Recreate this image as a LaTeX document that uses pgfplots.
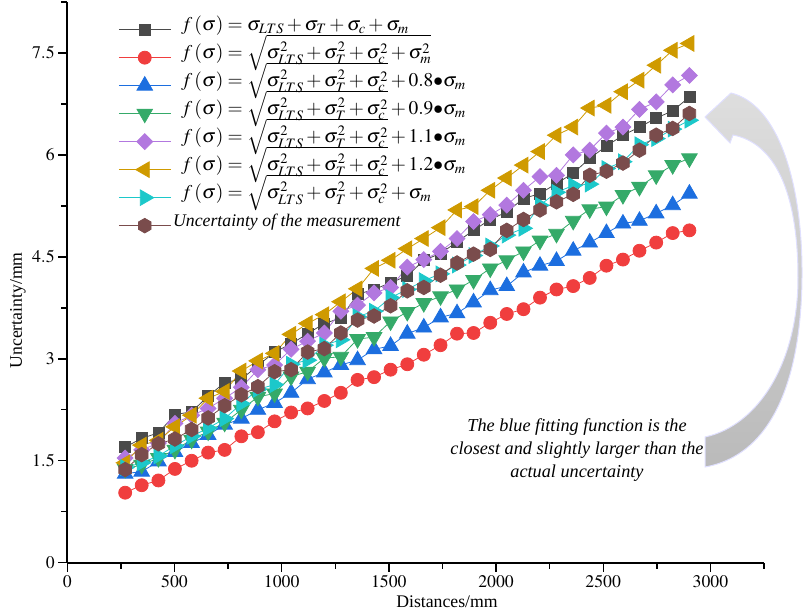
\documentclass[border=0pt]{standalone}
\usepackage{mathptmx}
\usepackage{fontspec}
\setmainfont{Liberation Serif}
\usepackage{pgfplots}
\usepackage{pgfplotstable}
\pgfplotsset{compat=1.18}

\definecolor{cblk}{HTML}{4A4A4A}
\definecolor{cred}{HTML}{F03E3E}
\definecolor{cblu}{HTML}{1C6EDF}
\definecolor{cgrn}{HTML}{35AA69}
\definecolor{cpur}{HTML}{B278DF}
\definecolor{cgld}{HTML}{CF9A00}
\definecolor{ccyn}{HTML}{1CC8CA}
\definecolor{cbrn}{HTML}{7A4C4C}

% hexagon marker, pointy top
\pgfdeclareplotmark{hexagon*}{%
  \pgfpathmoveto{\pgfqpointpolar{90}{\pgfplotmarksize}}%
  \pgfpathlineto{\pgfqpointpolar{150}{\pgfplotmarksize}}%
  \pgfpathlineto{\pgfqpointpolar{210}{\pgfplotmarksize}}%
  \pgfpathlineto{\pgfqpointpolar{270}{\pgfplotmarksize}}%
  \pgfpathlineto{\pgfqpointpolar{330}{\pgfplotmarksize}}%
  \pgfpathlineto{\pgfqpointpolar{30}{\pgfplotmarksize}}%
  \pgfpathclose
  \pgfusepathqfillstroke}

\newcommand{\mf}{\fontsize{19.5}{20}\selectfont}

% x, sum, rss, +0.8, +0.9, +1.1, +1.2, +1.0, measured
\pgfplotstableread{
x    blk  red  blu  grn  pur  gld  cyn  brn
270  1.70 1.03 1.31 1.38 1.54 1.47 1.40 1.37
347  1.83 1.14 1.34 1.44 1.66 1.73 1.47 1.59
425  1.91 1.21 1.49 1.54 1.76 1.80 1.57 1.75
502  2.18 1.38 1.63 1.66 2.05 2.00 1.72 1.82
580  2.22 1.50 1.76 1.81 2.17 2.17 1.86 1.96
657  2.45 1.62 1.88 1.93 2.27 2.42 1.98 2.13
734  2.65 1.66 2.03 2.06 2.42 2.52 2.12 2.31
812  2.70 1.86 2.12 2.25 2.58 2.82 2.34 2.47
889  2.90 1.92 2.25 2.44 2.84 2.97 2.55 2.59
967  3.10 2.08 2.35 2.49 2.91 3.08 2.62 2.81
1044 3.22 2.21 2.50 2.74 3.14 3.36 2.92 2.84
1121 3.37 2.27 2.70 2.81 3.26 3.52 2.98 3.10
1199 3.52 2.38 2.80 3.01 3.38 3.65 3.20 3.15
1276 3.60 2.50 2.91 3.03 3.70 3.84 3.28 3.38
1354 3.95 2.69 2.98 3.29 3.79 4.03 3.62 3.57
1431 4.02 2.73 3.14 3.32 3.97 4.33 3.70 3.63
1508 4.12 2.84 3.19 3.55 4.05 4.45 3.90 3.78
1586 4.22 2.92 3.37 3.69 4.35 4.62 4.02 4.00
1663 4.45 3.06 3.46 3.82 4.46 4.77 4.15 4.05
1741 4.55 3.20 3.61 3.92 4.58 4.93 4.25 4.23
1818 4.72 3.37 3.67 4.02 4.77 5.19 4.38 4.41
1895 4.89 3.38 3.83 4.16 5.02 5.24 4.52 4.54
1973 5.05 3.53 4.01 4.33 5.12 5.48 4.66 4.61
2050 5.16 3.66 4.07 4.45 5.26 5.66 4.82 4.89
2128 5.36 3.73 4.27 4.58 5.48 5.85 4.92 5.05
2205 5.43 3.90 4.37 4.74 5.68 6.05 5.26 5.19
2282 5.58 4.02 4.44 4.84 5.70 6.29 5.45 5.31
2360 5.73 4.07 4.59 5.03 6.00 6.41 5.55 5.42
2437 5.95 4.19 4.71 5.20 6.07 6.69 5.57 5.70
2515 6.13 4.37 4.85 5.24 6.32 6.73 5.80 5.76
2592 6.29 4.46 4.99 5.41 6.41 6.93 5.90 5.88
2669 6.41 4.59 5.03 5.53 6.67 7.10 6.15 6.07
2747 6.54 4.71 5.14 5.70 6.78 7.32 6.24 6.29
2824 6.65 4.85 5.26 5.85 7.03 7.54 6.38 6.39
2902 6.85 4.89 5.43 5.95 7.17 7.64 6.51 6.61
}\data

\begin{document}
\begin{tikzpicture}
\path[use as bounding box] (0,0) rectangle (803bp,-616bp);

\begin{axis}[
  at={(67.3bp,-562.7bp)}, anchor=south west,
  scale only axis, width=696.7bp, height=560.7bp,
  xmin=0, xmax=3250, ymin=0, ymax=8.25,
  axis x line*=bottom, axis y line*=left,
  axis line style={line width=1.6bp, -},
  xtick={0,500,...,3000}, ytick={0,1.5,3,4.5,6,7.5},
  minor xtick={250,750,...,3250}, minor ytick={0.75,2.25,3.75,5.25,6.75,8.25},
  tick align=outside, major tick length=9bp, minor tick length=6bp,
  every tick/.style={black, line width=1.4bp},
  scaled x ticks=false,
  /pgf/number format/1000 sep={},
  tick label style={font=\fontsize{17.8}{20}\selectfont},
  xlabel={Distances/mm}, ylabel={Uncertainty/mm},
  label style={font=\fontsize{17.8}{20}\selectfont},
  xlabel style={at={(axis description cs:0.545,-0.0696)}, anchor=center},
  ylabel style={at={(axis description cs:-0.0708,0.45)}, anchor=center},
  legend cell align=left,
  legend image code/.code={\draw[#1, mark repeat=2, mark phase=2] plot coordinates {(0bp,0bp) (26bp,0bp) (52bp,0bp)};},
  legend style={draw=none, fill=none, at={(axis description cs:0.073,0.976)}, anchor=north west,
    font=\fontsize{17.8}{20}\selectfont, row sep=0pt, inner sep=0pt,
    nodes={inner xsep=2bp, inner ysep=0pt, text height=15bp, text depth=13bp}},
  every axis plot/.append style={line width=0.8bp},
]
\addplot[cblk, mark=square*, mark size=5.5bp] table[x=x, y=blk] {\data};
\addlegendentry{\mf\hspace{8bp}$f\,(\sigma)=\sigma_{LTS}+\sigma_T+\sigma_c+\sigma_m$}
\addplot[cred, mark=*, mark size=6.5bp] table[x=x, y=red] {\data};
\addlegendentry{\mf\hspace{8bp}$f\,(\sigma)=\sqrt{\sigma_{LTS}^2+\sigma_T^2+\sigma_c^2+\sigma_m^2}$}
\addplot[cblu, mark=triangle*, mark size=9bp] table[x=x, y=blu] {\data};
\addlegendentry{\mf\hspace{8bp}$f\,(\sigma)=\sqrt{\sigma_{LTS}^2+\sigma_T^2+\sigma_c^2}+0.8{\bullet}\sigma_m$}
\addplot[cgrn, mark=triangle*, mark size=9bp, mark options={rotate=180}] table[x=x, y=grn] {\data};
\addlegendentry{\mf\hspace{8bp}$f\,(\sigma)=\sqrt{\sigma_{LTS}^2+\sigma_T^2+\sigma_c^2}+0.9{\bullet}\sigma_m$}
\addplot[cpur, mark=square*, mark size=5.6bp, mark options={rotate=45}] table[x=x, y=pur] {\data};
\addlegendentry{\mf\hspace{8bp}$f\,(\sigma)=\sqrt{\sigma_{LTS}^2+\sigma_T^2+\sigma_c^2}+1.1{\bullet}\sigma_m$}
\addplot[cgld, mark=triangle*, mark size=9bp, mark options={rotate=90}] table[x=x, y=gld] {\data};
\addlegendentry{\mf\hspace{8bp}$f\,(\sigma)=\sqrt{\sigma_{LTS}^2+\sigma_T^2+\sigma_c^2}+1.2{\bullet}\sigma_m$}
\addplot[ccyn, mark=triangle*, mark size=9bp, mark options={rotate=-90}] table[x=x, y=cyn] {\data};
\addlegendentry{\mf\hspace{8bp}$f\,(\sigma)=\sqrt{\sigma_{LTS}^2+\sigma_T^2+\sigma_c^2}+\sigma_m$}
\addplot[cbrn, mark=hexagon*, mark size=7.3bp] table[x=x, y=brn] {\data};
\addlegendentry{\textit{Uncertainty of the measurement}}

\node[align=center, font=\itshape\fontsize{18.3}{23}\selectfont] at (rel axis cs:0.7316,0.201)
  {The blue fitting function is the\\closest and slightly larger than the\\actual uncertainty};
\end{axis}

% curved grey arrow, image pixel coordinates
\begin{scope}[x=1bp, y=-1bp]
\path[draw=blue!12, line width=1bp, top color=black!13, bottom color=black!27]
  (705,117) -- (731,93)
  .. controls (777,104) and (803,180) .. (802,278)
  .. controls (801,380) and (772,455) .. (705,467)
  -- (705,437)
  .. controls (760,425) and (798,360) .. (798,278)
  .. controls (798,192) and (775,143) .. (733,135)
  -- (730,143) -- cycle;
\end{scope}
\end{tikzpicture}
\end{document}
